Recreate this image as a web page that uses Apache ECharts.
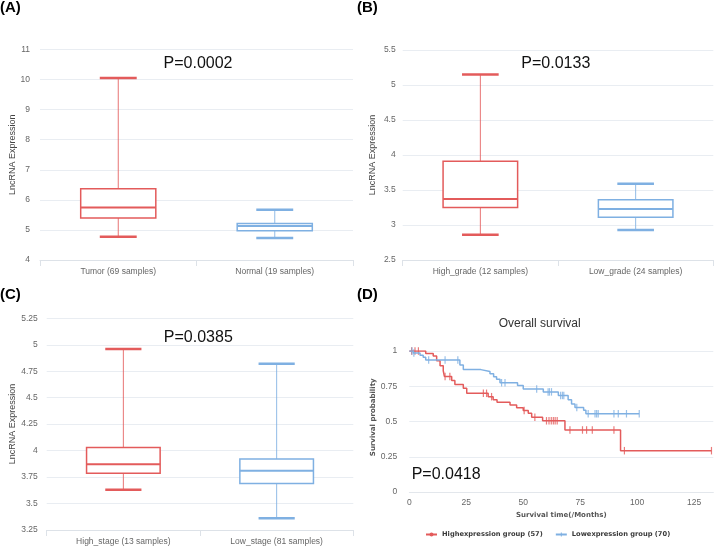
<!DOCTYPE html>
<html><head><meta charset="utf-8">
<script src="https://cdn.jsdelivr.net/npm/echarts@6/dist/echarts.min.js"></script>
<style>html,body{margin:0;padding:0;background:#fff}#c{width:720px;height:549px}</style>
</head><body><div id="c"></div>
<script>
// ---- Panel A ----
const catsA = ['Tumor (69 samples)', 'Normal (19 samples)'];
// [min, q1, median, q3, max]
const statsA = [[4.77, 5.40, 5.75, 6.37, 10.05], [4.73, 4.97, 5.13, 5.21, 5.67]];
const pA = 'P=0.0002';
// ---- Panel B ----
const catsB = ['High_grade (12 samples)', 'Low_grade (24 samples)'];
const statsB = [[2.86, 3.25, 3.37, 3.91, 5.15], [2.93, 3.11, 3.23, 3.36, 3.59]];
const pB = 'P=0.0133';
// ---- Panel C ----
const catsC = ['High_stage (13 samples)', 'Low_stage (81 samples)'];
const statsC = [[3.63, 3.785, 3.87, 4.03, 4.96], [3.36, 3.69, 3.81, 3.92, 4.82]];
const pC = 'P=0.0385';
// ---- Panel D (Kaplan-Meier) ----
const highName = 'Highexpression group (57)';
const lowName = 'Lowexpression group (70)';
const highSteps = [[0,1],[7.2,0.983],[10.5,0.965],[12,0.93],[13.5,0.895],[14.9,0.86],[15.4,0.82],[18.6,0.79],[20,0.762],[23.7,0.735],[25.2,0.70],[34.6,0.676],[36.8,0.655],[38.5,0.636],[44.2,0.617],[47.1,0.598],[50,0.578],[52.2,0.558],[53.7,0.53],[58.5,0.505],[68.3,0.44],[92.7,0.293],[132.6,0.293]];
const highCensor = [1.0, 2.5, 4.0, 15.7, 17.8, 32.5, 33.9, 36.1, 50.4, 55.1, 60.2, 61.3, 62.3, 63.2, 64.0, 64.9, 70.5, 76.0, 77.8, 80.3, 89.8, 94.4, 132.6];
const lowSteps = [[0,1],[1.8,0.985],[4.7,0.97],[6.1,0.955],[7.2,0.936],[22.2,0.90],[23.7,0.868],[31.4,0.855],[35.4,0.838],[37,0.818],[38.3,0.80],[39.8,0.775],[47.5,0.755],[50,0.73],[58.8,0.71],[65.4,0.685],[69.7,0.655],[71.2,0.625],[72.7,0.60],[76.5,0.58],[77.5,0.555],[100.9,0.555]];
const lowCensor = [1.2, 2.0, 8.5, 15.7, 21.3, 40.5, 42.0, 55.9, 60.9, 61.5, 62.4, 66.4, 67.2, 67.8, 73.5, 78.5, 81.5, 82.2, 82.9, 89.8, 91.7, 95.3, 100.9];
const pD = 'P=0.0418';

const RED = '#e35b5b', BLUE = '#7fb0e2';
const boxColors = [RED, BLUE];
const LBL = '#666';
const SPLIT = '#e9edf2';
const AXL = '#dde2e8';

function survAt(steps, t) { let s = steps[0][1]; for (const p of steps) { if (p[0] <= t) s = p[1]; } return s; }

function boxRender(params, api) {
  const i = api.value(0);
  const lo = api.coord([i, api.value(1)]);
  const q1 = api.coord([i, api.value(2)]);
  const md = api.coord([i, api.value(3)]);
  const q3 = api.coord([i, api.value(4)]);
  const hi = api.coord([i, api.value(5)]);
  const band = api.size([1, 0])[0];
  const bw = band * 0.48, cw = band * 0.236;
  const x = lo[0];
  const c = boxColors[i];
  return {type: 'group', children: [
    {type: 'line', shape: {x1: x, y1: hi[1], x2: x, y2: q3[1]}, style: {stroke: c, lineWidth: 1, opacity: 0.85}},
    {type: 'line', shape: {x1: x, y1: q1[1], x2: x, y2: lo[1]}, style: {stroke: c, lineWidth: 1, opacity: 0.85}},
    {type: 'rect', shape: {x: x - bw / 2, y: q3[1], width: bw, height: q1[1] - q3[1]}, style: {fill: '#fff', stroke: c, lineWidth: 1.5}},
    {type: 'line', shape: {x1: x - bw / 2, y1: md[1], x2: x + bw / 2, y2: md[1]}, style: {stroke: c, lineWidth: 2}},
    {type: 'line', shape: {x1: x - cw / 2, y1: hi[1], x2: x + cw / 2, y2: hi[1]}, style: {stroke: c, lineWidth: 2.5}},
    {type: 'line', shape: {x1: x - cw / 2, y1: lo[1], x2: x + cw / 2, y2: lo[1]}, style: {stroke: c, lineWidth: 2.5}}
  ]};
}

function boxData(stats) { return stats.map((s, i) => [i].concat(s)); }

function catAxis(g, cats) {
  return {type: 'category', gridIndex: g, data: cats, boundaryGap: true,
    axisLine: {show: true, lineStyle: {color: AXL}},
    axisTick: {show: true, length: 6, lineStyle: {color: AXL}},
    axisLabel: {color: LBL, fontSize: 8.5, fontFamily: 'Liberation Sans', margin: 7},
    splitLine: {show: false}};
}
function valAxis(g, min, max, interval, margin) {
  return {type: 'value', gridIndex: g, min: min, max: max, interval: interval,
    axisLine: {show: false}, axisTick: {show: false},
    axisLabel: {color: LBL, fontSize: 8.5, fontFamily: 'Liberation Sans', margin: margin},
    splitLine: {show: true, lineStyle: {color: SPLIT, width: 1}}};
}

function txt(text, x, y, opts) {
  return {type: 'text', x: x, y: y, silent: true,
    style: Object.assign({text: text, fill: '#111', fontSize: 16, fontFamily: 'Liberation Sans', textAlign: 'center', textVerticalAlign: 'middle'}, opts || {})};
}
function rtxt(text, x, y, opts) {
  const t = txt(text, x, y, opts);
  t.rotation = Math.PI / 2;
  return t;
}

const chart = echarts.init(document.getElementById('c'), null, {renderer: 'canvas'});
const option = {
  animation: false,
  backgroundColor: '#fff',
  grid: [
    {left: 40, top: 49.5, width: 313, height: 210.5},
    {left: 402.7, top: 50, width: 310.6, height: 210},
    {left: 46.7, top: 318.3, width: 306.6, height: 211.7},
    {left: 409.3, top: 351, width: 304, height: 141}
  ],
  xAxis: [
    catAxis(0, catsA), catAxis(1, catsB), catAxis(2, catsC),
    {type: 'value', gridIndex: 3, min: 0, max: 133.4, interval: 25,
      axisLine: {show: true, lineStyle: {color: '#e3e7ec'}}, axisTick: {show: false},
      axisLabel: {color: LBL, fontSize: 8.5, fontFamily: 'Liberation Sans', margin: 6, showMaxLabel: false,
        formatter: v => (v % 25 === 0 ? String(v) : '')},
      splitLine: {show: false}}
  ],
  yAxis: [
    valAxis(0, 4, 11, 1, 10), valAxis(1, 2.5, 5.5, 0.5, 7), valAxis(2, 3.25, 5.25, 0.25, 9), valAxis(3, 0, 1, 0.25, 12)
  ],
  legend: {
    left: 420, top: 526, itemWidth: 11, itemHeight: 5, itemGap: 12,
    data: [highName, lowName],
    textStyle: {fontFamily: 'DejaVu Sans', fontWeight: 'bold', fontSize: 6.7, color: '#3a3a3a'}
  },
  series: [
    {type: 'custom', xAxisIndex: 0, yAxisIndex: 0, renderItem: boxRender, data: boxData(statsA), encode: {x: 0, y: [1, 2, 3, 4, 5]}},
    {type: 'custom', xAxisIndex: 1, yAxisIndex: 1, renderItem: boxRender, data: boxData(statsB), encode: {x: 0, y: [1, 2, 3, 4, 5]}},
    {type: 'custom', xAxisIndex: 2, yAxisIndex: 2, renderItem: boxRender, data: boxData(statsC), encode: {x: 0, y: [1, 2, 3, 4, 5]}},
    {type: 'line', name: highName, xAxisIndex: 3, yAxisIndex: 3, step: 'end', data: highSteps,
      symbol: 'circle', symbolSize: 4, showSymbol: false, lineStyle: {color: RED, width: 1.5}, itemStyle: {color: RED}},
    {type: 'line', name: lowName, xAxisIndex: 3, yAxisIndex: 3, step: 'end', data: lowSteps,
      symbol: 'path://M3,0H5V3H8V5H5V8H3V5H0V3H3Z', symbolSize: 5, showSymbol: false, lineStyle: {color: BLUE, width: 1.5}, itemStyle: {color: BLUE}},
    {type: 'scatter', name: highName, xAxisIndex: 3, yAxisIndex: 3, data: highCensor.map(t => [t, survAt(highSteps, t)]),
      symbol: 'rect', symbolSize: [1.2, 7.5], itemStyle: {color: RED}},
    {type: 'scatter', name: lowName, xAxisIndex: 3, yAxisIndex: 3, data: lowCensor.map(t => [t, survAt(lowSteps, t)]),
      symbol: 'rect', symbolSize: [1.2, 7.5], itemStyle: {color: BLUE}}
  ],
  graphic: [
    txt('(A)', 0, 8, {fontSize: 15, fontWeight: 'bold', textAlign: 'left', fill: '#000'}),
    txt('(B)', 357, 8, {fontSize: 15, fontWeight: 'bold', textAlign: 'left', fill: '#000'}),
    txt('(C)', 0, 295, {fontSize: 15, fontWeight: 'bold', textAlign: 'left', fill: '#000'}),
    txt('(D)', 357, 295, {fontSize: 15, fontWeight: 'bold', textAlign: 'left', fill: '#000'}),
    txt(pA, 198, 63.3),
    txt(pB, 555.8, 63.3),
    txt(pC, 198.3, 337.8),
    txt(pD, 411.7, 474.5, {textAlign: 'left'}),
    txt('Overall survival', 539.7, 323.3, {fontSize: 12, fill: '#333'}),
    txt('Survival time(/Months)', 561.3, 515, {fontSize: 7, fontWeight: 'bold', fontFamily: 'DejaVu Sans', fill: '#555'}),
    rtxt('LncRNA Expression', 13, 154.8, {fontSize: 9, fill: '#444'}),
    rtxt('LncRNA Expression', 373, 155, {fontSize: 9, fill: '#444'}),
    rtxt('LncRNA Expression', 13, 424, {fontSize: 9, fill: '#444'}),
    rtxt('Survival probability', 372.7, 417.3, {fontSize: 7, fontWeight: 'bold', fontFamily: 'DejaVu Sans', fill: '#555'})
  ]
};
chart.setOption(option);
</script>
</body></html>
